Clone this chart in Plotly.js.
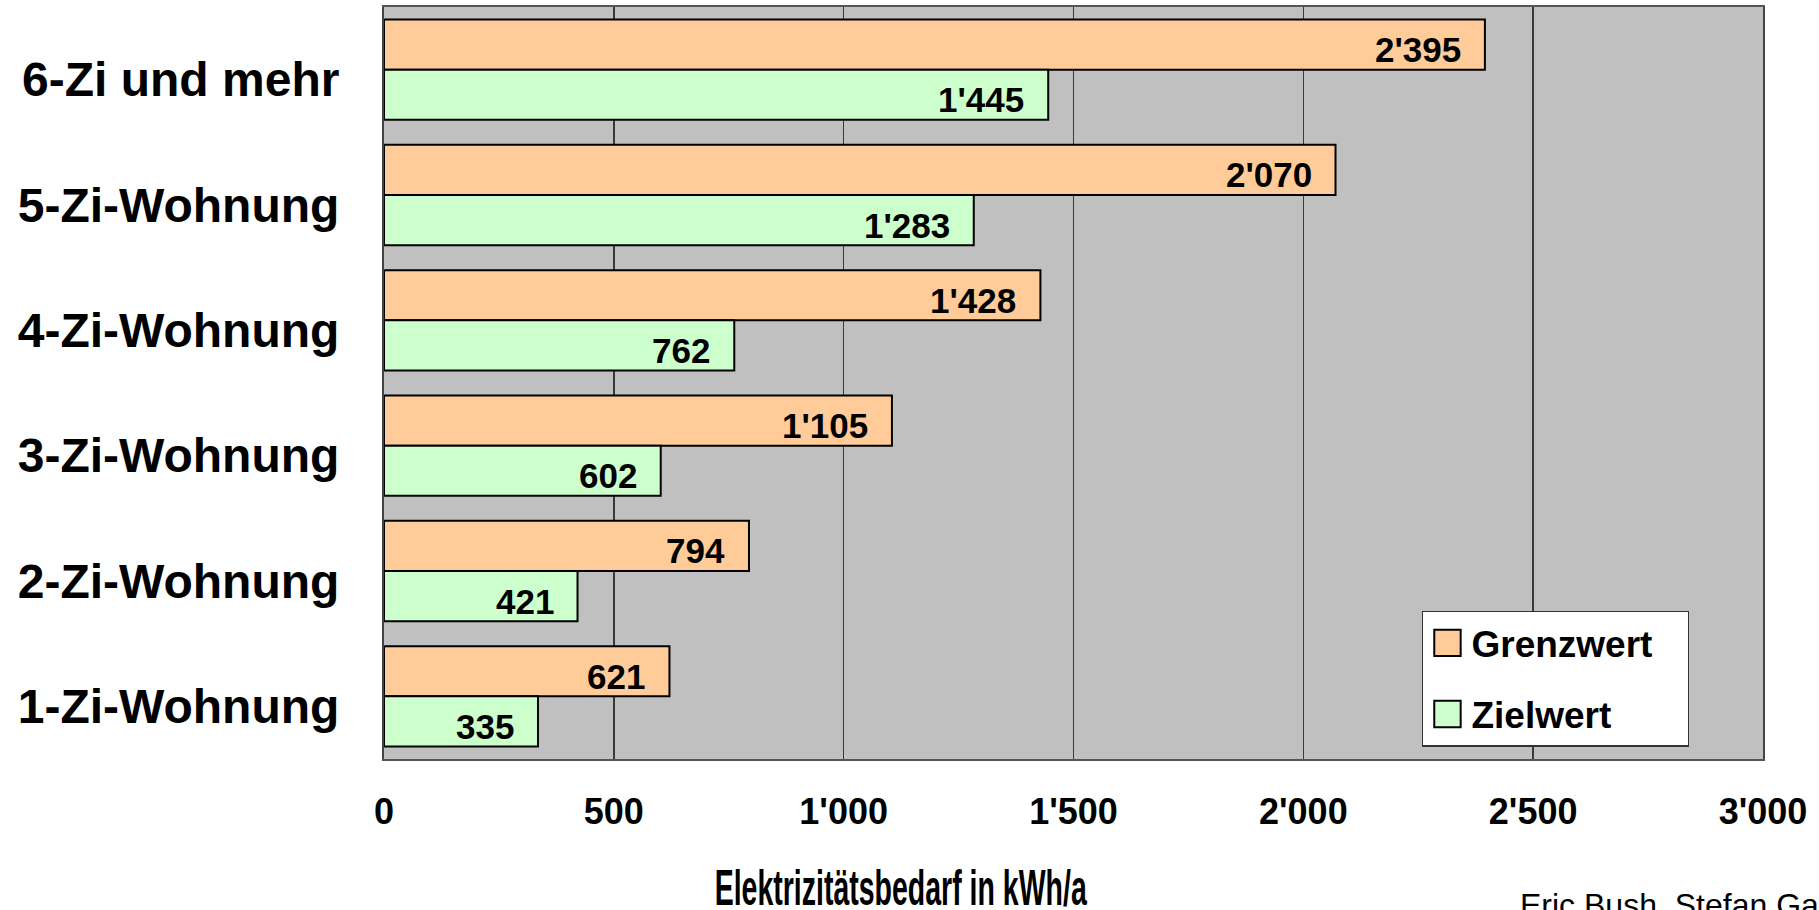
<!DOCTYPE html>
<html>
<head>
<meta charset="utf-8">
<script src="https://cdn.plot.ly/plotly-3.0.1.min.js"></script>
<style>html,body{margin:0;padding:0;background:#fff;}#chart{width:1819px;height:910px;}</style>
</head>
<body>
<div id="chart"></div>
<script>
const categories = ['6-Zi und mehr', '5-Zi-Wohnung', '4-Zi-Wohnung', '3-Zi-Wohnung', '2-Zi-Wohnung', '1-Zi-Wohnung'];
const grenzwert = [2395, 2070, 1428, 1105, 794, 621];
const zielwert = [1445, 1283, 762, 602, 421, 335];
const xTicks = [0, 500, 1000, 1500, 2000, 2500, 3000];
const xTitle = 'Elektrizitätsbedarf in kWh/a';
const credit = 'Eric Bush, Stefan Gasser';

const fmt = v => String(v).replace(/\B(?=(\d{3})+(?!\d))/g, "'");
const bold = (size, fam) => ({family: fam || 'Liberation Sans, Arial, sans-serif', size: size, color: '#000', weight: 'bold'});

const traces = [
  {type: 'bar', orientation: 'h', name: 'Grenzwert', y: categories, x: grenzwert,
   marker: {color: '#FFCC99', line: {color: '#000', width: 2}}, legendgroup: 'g', hoverinfo: 'x'},
  {type: 'bar', orientation: 'h', name: 'Zielwert', y: categories, x: zielwert,
   marker: {color: '#CCFFCC', line: {color: '#000', width: 2}}, legendgroup: 'z', hoverinfo: 'x'}
];

const annotations = [];
categories.forEach((c, i) => {
  annotations.push({x: grenzwert[i], y: i - 0.2, xref: 'x', yref: 'y', text: fmt(grenzwert[i]),
    showarrow: false, xanchor: 'right', yanchor: 'middle', xshift: -22, yshift: -5, font: bold(35)});
  annotations.push({x: zielwert[i], y: i + 0.2, xref: 'x', yref: 'y', text: fmt(zielwert[i]),
    showarrow: false, xanchor: 'right', yanchor: 'middle', xshift: -22, yshift: -5, font: bold(35)});
});
annotations.push({x: 0.375, y: -0.172, xref: 'paper', yref: 'paper', xanchor: 'center', yanchor: 'middle',
  text: xTitle, showarrow: false, font: bold(50)});
annotations.push({x: 0.822, y: -0.168, xref: 'paper', yref: 'paper', xanchor: 'left', yanchor: 'top',
  text: credit, showarrow: false,
  font: {family: 'Liberation Sans, Arial, sans-serif', size: 32, color: '#000'}});

const layout = {
  width: 1819, height: 910,
  margin: {l: 384, r: 56, t: 7, b: 151, pad: 0},
  paper_bgcolor: '#fff', plot_bgcolor: '#C0C0C0',
  separators: ".'",
  barmode: 'group', bargap: 0.2, bargroupgap: 0,
  showlegend: true,
  legend: {x: 0.7527, y: 0.197, xanchor: 'left', yanchor: 'top', bgcolor: '#fff',
    bordercolor: '#333', borderwidth: 1.5, font: bold(37), tracegroupgap: 20, traceorder: 'grouped',
    itemwidth: 38},
  xaxis: {range: [0, 3000], tickvals: xTicks, tickformat: ',d', showgrid: true, gridcolor: '#3a3a3a', gridwidth: 1.5,
    zeroline: false, showline: true, linecolor: '#555', linewidth: 2, mirror: true, ticks: '',
    tickfont: bold(36), ticklabelstandoff: 20},
  yaxis: {type: 'category', categoryorder: 'array', categoryarray: categories, autorange: 'reversed',
    showgrid: false, zeroline: false, showline: true, linecolor: '#444', linewidth: 2, mirror: true, ticks: '',
    tickfont: bold(48), ticklabelstandoff: 33, ticklabelshift: -10},
  annotations: annotations
};

Plotly.newPlot('chart', traces, layout, {displayModeBar: false, staticPlot: true}).then(gd => {
  gd.querySelectorAll('.annotation-text').forEach(t => {
    if (t.textContent === xTitle) {
      const b = t.getBBox();
      const cx = b.x + b.width / 2;
      t.setAttribute('transform', 'translate(' + cx + ',0) scale(0.57,1) translate(' + (-cx) + ',0)');
    }
  });
  gd.querySelectorAll('.legend .legendpoints path').forEach(p => {
    const tr = p.getAttribute('transform') || '';
    p.setAttribute('transform', tr + ' scale(2.2)');
    p.setAttribute('vector-effect', 'non-scaling-stroke');
  });
  const bg = gd.querySelector('.legend rect.bg');
  if (bg) bg.setAttribute('width', 266);
});
</script>
</body>
</html>
